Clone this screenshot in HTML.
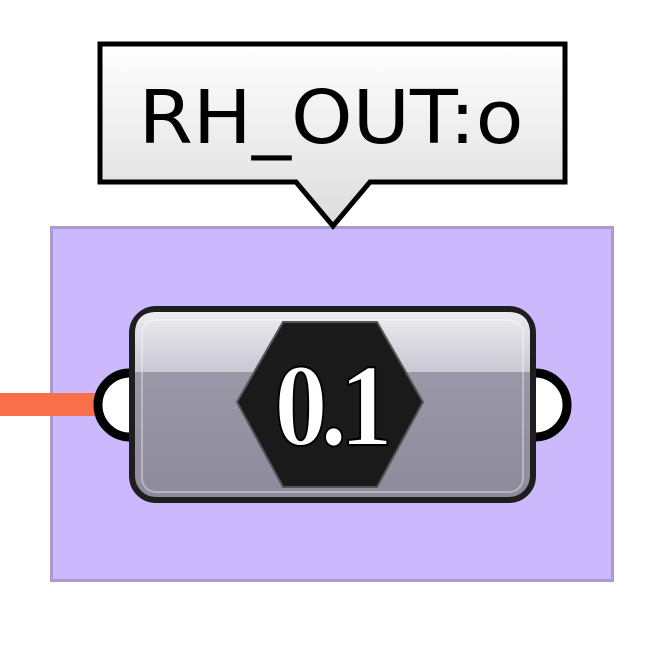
<!DOCTYPE html>
<html><head><style>html,body{margin:0;padding:0;background:#fff;width:656px;height:648px;overflow:hidden}</style></head>
<body>
<svg width="656" height="648" viewBox="0 0 656 648" xmlns="http://www.w3.org/2000/svg">
<defs>
<linearGradient id="cg" x1="0" y1="0" x2="0" y2="1">
<stop offset="0" stop-color="#ffffff"/><stop offset="1" stop-color="#dcdcdc"/>
</linearGradient>
<linearGradient id="tg" x1="0" y1="0" x2="0" y2="1">
<stop offset="0" stop-color="#ececf0"/><stop offset="1" stop-color="#c9c8d3"/>
</linearGradient>
<linearGradient id="bg" x1="0" y1="0" x2="0" y2="1">
<stop offset="0" stop-color="#a19eae"/><stop offset="1" stop-color="#8d8a9b"/>
</linearGradient>
</defs>
<rect x="51.5" y="227.5" width="561" height="353" fill="#cbb8fd" stroke="#a99ccc" stroke-width="3"/>
<rect x="0" y="393" width="100" height="23" fill="#f96f4a"/>
<circle cx="130" cy="405" r="32" fill="#fff" stroke="#000" stroke-width="9"/>
<circle cx="535" cy="405" r="32" fill="#fff" stroke="#000" stroke-width="9"/>
<rect x="132" y="309" width="401" height="191" rx="24" fill="url(#bg)" stroke="#1e1e1e" stroke-width="6"/>
<path d="M135 372 V334 Q135 312 157 312 H508 Q530 312 530 334 V372 Z" fill="url(#tg)"/>
<rect x="142" y="320" width="381" height="172" rx="14" fill="none" stroke="#ffffff" stroke-opacity="0.35" stroke-width="2"/>
<polygon points="237,402 283,322 377,322 423,402 377,487 283,487" fill="#1a1a1a" stroke="#555" stroke-width="2"/>
<text x="330" y="445" text-anchor="middle" font-family="Liberation Serif, serif" font-weight="bold" font-size="118" fill="#fff" stroke="#000" stroke-width="2" letter-spacing="-8" transform="translate(330 0) scale(0.9 1) translate(-330 0)">0.1</text>
<polygon points="100,44 565,44 565,182 370,182 333,226 296,182 100,182" fill="url(#cg)" stroke="#000" stroke-width="5" stroke-linejoin="miter"/>
<text x="331" y="143" text-anchor="middle" font-family="DejaVu Sans, sans-serif" font-size="74" fill="#000" textLength="385" lengthAdjust="spacingAndGlyphs">RH_OUT:o</text>
</svg>
</body></html>
